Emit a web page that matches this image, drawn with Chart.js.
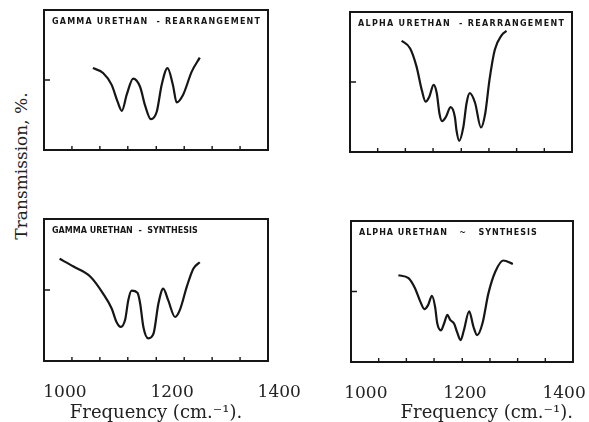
<!DOCTYPE html>
<html>
<head>
<meta charset="utf-8">
<script src="https://cdn.jsdelivr.net/npm/chart.js@4.4.1/dist/chart.umd.min.js"></script>
<style>
  html, body { margin: 0; padding: 0; background: #fff; }
  body { width: 589px; height: 422px; position: relative; overflow: hidden; }
  canvas { position: absolute; }
  #ylabel {
    position: absolute; left: 21px; top: 166px;
    transform: translate(-50%, -50%) rotate(-90deg);
    font: 17px "DejaVu Serif"; color: #222; white-space: nowrap;
  }
</style>
</head>
<body>
<div id="ylabel">Transmission, %.</div>
<canvas id="gammaRearr" width="240" height="156" style="left:36px;top:2px"></canvas>
<canvas id="alphaRearr" width="238" height="156" style="left:342px;top:4px"></canvas>
<canvas id="gammaSynth" width="270" height="211" style="left:36px;top:211px"></canvas>
<canvas id="alphaSynth" width="246" height="209" style="left:343px;top:213px"></canvas>
<script>
// frequency (cm-1) / transmission (%)
const gammaRearrFreq = [1052, 1071, 1087, 1098, 1106, 1115, 1127, 1140, 1149, 1160, 1171, 1180, 1191, 1201, 1208, 1220, 1236, 1251];
const gammaRearrTrans = [58.5, 55, 46.5, 34.5, 28, 39.5, 51, 45, 32, 22, 27.5, 46.5, 58.5, 46.5, 34, 39.5, 56, 66];

const alphaRearrFreq = [1058, 1074, 1086, 1096, 1103, 1110, 1118, 1124, 1129, 1134, 1141, 1150, 1158, 1161, 1166, 1174, 1180, 1186, 1196, 1207, 1215, 1223, 1233, 1246, 1255];
const alphaRearrTrans = [79.5, 74, 61, 44, 36, 39.5, 48, 42, 27.5, 22, 25, 32, 25, 15.5, 8, 18, 35, 42, 35, 17.5, 27.5, 51.5, 73, 83.5, 86.5];

const gammaSynthFreq = [990, 1016, 1047, 1071, 1087, 1096, 1104, 1112, 1118, 1124, 1135, 1140, 1146, 1155, 1165, 1174, 1183, 1192, 1205, 1214, 1227, 1239, 1251];
const gammaSynthTrans = [72, 66.5, 59.5, 47.5, 37, 27.5, 24, 29, 43, 49.5, 48, 40.5, 24, 16, 19.5, 40.5, 51, 43, 31, 36, 52.5, 65, 69.5];

const alphaSynthFreq = [1050, 1069, 1081, 1091, 1099, 1106, 1113, 1119, 1123, 1130, 1136, 1142, 1147, 1155, 1160, 1167, 1173, 1183, 1191, 1198, 1208, 1219, 1232, 1247, 1265];
const alphaSynthTrans = [61.5, 59.5, 52.5, 43, 37.5, 40.5, 47, 39, 27.5, 22.5, 27.5, 33.5, 30, 27, 21.5, 15.5, 22.5, 36, 25, 19, 27.5, 48.5, 64, 72, 69.5];

const freqTickLabels = [1000, 1200, 1400];
const freqTickMarks = [1013, 1065, 1117, 1170, 1222, 1274, 1326];
const transTickMarks = [50];

const INK = "#161616";

// box, inner tick marks and the small caption in the corner
const framePlugin = {
  id: "frame",
  afterDatasetsDraw(chart, args, opts) {
    const { ctx, chartArea: a } = chart;
    const x = chart.scales.x;
    const y = chart.scales.y;
    ctx.save();
    ctx.strokeStyle = INK;
    ctx.lineWidth = 2;
    ctx.strokeRect(a.left, a.top, a.width, a.height);
    ctx.lineWidth = 1.4;
    ctx.beginPath();
    freqTickMarks.forEach((v) => {
      const px = x.getPixelForValue(v);
      ctx.moveTo(px, a.bottom);
      ctx.lineTo(px, a.bottom - 4);
    });
    transTickMarks.forEach((v) => {
      const py = y.getPixelForValue(v);
      ctx.moveTo(a.left, py);
      ctx.lineTo(a.left + 6, py);
    });
    ctx.stroke();
    ctx.fillStyle = INK;
    ctx.font = 'bold 8px "DejaVu Sans"';
    ctx.letterSpacing = opts.spacing + "px";
    ctx.textBaseline = "middle";
    ctx.fillText(opts.text, a.left + 8, a.top + 12);
    ctx.restore();
  },
};

function makePanel(id, freq, trans, caption, opt) {
  const scales = {
    x: { type: "linear", display: false, min: 961, max: 1378 },
    y: { type: "linear", display: false, min: 0, max: 100 },
  };
  if (opt.labelRange) {
    scales.freqLabels = {
      type: "linear",
      position: "bottom",
      min: opt.labelRange[0],
      max: opt.labelRange[1],
      afterBuildTicks: (s) => {
        s.ticks = freqTickLabels.map((v) => ({ value: v }));
      },
      afterFit: (s) => {
        // keep the box fixed: labels may hang past its edges
        s.height = opt.axisHeight;
        s.paddingLeft = 0;
        s.paddingRight = 0;
      },
      grid: { display: false },
      border: { display: false },
      ticks: {
        autoSkip: false,
        maxRotation: 0,
        padding: 13,
        color: "#222",
        font: { family: "DejaVu Serif", size: 17 },
        callback: (v) => String(v),
      },
      title: {
        display: true,
        text: "Frequency (cm.\u207B\u00B9).",
        align: opt.titleAlign,
        color: "#222",
        padding: { top: 0, bottom: 0 },
        font: { family: "DejaVu Serif", size: 18, lineHeight: 1 },
      },
    };
  }

  return new Chart(document.getElementById(id), {
    type: "line",
    data: {
      datasets: [
        {
          data: freq.map((f, i) => ({ x: f, y: trans[i] })),
          borderColor: INK,
          borderWidth: 2.2,
          pointRadius: 0,
          fill: false,
          cubicInterpolationMode: "monotone",
        },
      ],
    },
    options: {
      responsive: false,
      animation: false,
      events: [],
      layout: { padding: opt.padding },
      plugins: {
        legend: { display: false },
        tooltip: { enabled: false },
        frame: { text: caption, spacing: opt.spacing },
      },
      scales,
    },
    plugins: [framePlugin],
  });
}

makePanel("gammaRearr", gammaRearrFreq, gammaRearrTrans, "GAMMA URETHAN  - REARRANGEMENT", {
  padding: { left: 8, top: 8, right: 8, bottom: 8 },
  spacing: 1.2,
});
makePanel("alphaRearr", alphaRearrFreq, alphaRearrTrans, "ALPHA URETHAN  - REARRANGEMENT", {
  padding: { left: 8, top: 8, right: 8, bottom: 8 },
  spacing: 1.3,
});
makePanel("gammaSynth", gammaSynthFreq, gammaSynthTrans, "GAMMA URETHAN  -  SYNTHESIS", {
  padding: { left: 8, top: 8, right: 38, bottom: 0 },
  spacing: 0,
  labelRange: [961, 1379],
  axisHeight: 61,
  titleAlign: "center",
});
makePanel("alphaSynth", alphaSynthFreq, alphaSynthTrans, "ALPHA URETHAN   ~   SYNTHESIS", {
  padding: { left: 8, top: 8, right: 16, bottom: 0 },
  spacing: 1,
  labelRange: [970, 1418],
  axisHeight: 60,
  titleAlign: "end",
});
</script>
</body>
</html>
